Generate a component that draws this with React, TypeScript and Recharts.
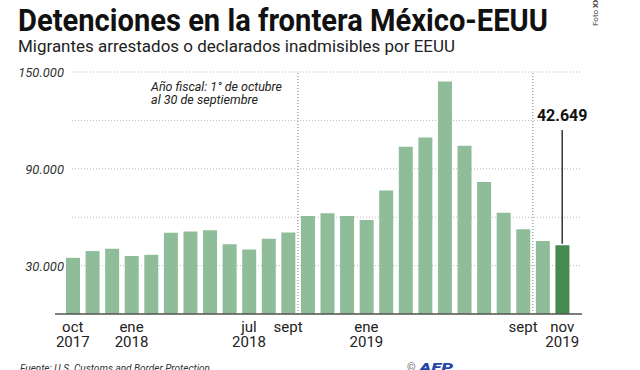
import { BarChart, Bar, XAxis, YAxis, CartesianGrid, ReferenceLine, Cell } from "recharts";

// meses del gráfico (oct 2017 - nov 2019)
const months = [
  "oct 2017", "nov 2017", "dic 2017", "ene 2018", "feb 2018", "mar 2018",
  "abr 2018", "may 2018", "jun 2018", "jul 2018", "ago 2018", "sept 2018",
  "oct 2018", "nov 2018", "dic 2018", "ene 2019", "feb 2019", "mar 2019",
  "abr 2019", "may 2019", "jun 2019", "jul 2019", "ago 2019", "sept 2019",
  "oct 2019", "nov 2019",
];

const detenciones = [
  34803, 39006, 40519, 35905, 36695, 50347,
  51166, 51912, 43180, 39953, 46719, 50568,
  60745, 62456, 60782, 58317, 76545, 103731,
  109415, 144116, 104311, 81777, 62707, 52546,
  45250, 42649,
];

const xTickLabels: Record<string, string[]> = {
  "oct 2017": ["oct", "2017"],
  "ene 2018": ["ene", "2018"],
  "jul 2018": ["jul", "2018"],
  "sept 2018": ["sept"],
  "ene 2019": ["ene", "2019"],
  "sept 2019": ["sept"],
  "nov 2019": ["nov", "2019"],
};

const yTicks = [0, 30000, 60000, 90000, 120000, 150000];
const yLabelled = [30000, 90000, 150000];
const fiscalYearStarts = ["oct 2018", "oct 2019"];
const lastLabel = "42.649";

const data = months.map((m, i) => ({ month: m, value: detenciones[i] }));

const W = 640;
const H = 370;
const margin = { top: 72, right: 58, bottom: 16, left: 0 };
const Y_W = 55;
const padL = 8;
const padR = 10;
const halfBand = (W - Y_W - margin.right - padL - padR) / months.length / 2;

const LIGHT = "#8fbd99";
const DARK = "#458a51";
const FONT = "Roboto, 'Noto Sans', sans-serif";

const XTick = (props: any) => {
  const lines = xTickLabels[props.payload.value];
  if (!lines) return null;
  return (
    <text x={props.x} y={props.y} textAnchor="middle" fontFamily={FONT} fontSize={15} fill="#222">
      {lines.map((l, i) => (
        <tspan key={i} x={props.x} dy={i === 0 ? 18 : 15}>
          {l}
        </tspan>
      ))}
    </text>
  );
};

const YTick = (props: any) => {
  const v = Number(props.payload.value);
  if (!yLabelled.includes(v)) return <g />;
  return (
    <text x={props.x + 9} y={props.y + 5} textAnchor="end" fontFamily={FONT} fontSize={13} fontStyle="italic" fill="#333">
      {v.toLocaleString("de-DE")}
    </text>
  );
};

const gridLine = (p: any) => (
  <line key={p.key} x1={p.x1 + 17} x2={p.x2} y1={p.y1} y2={p.y2} stroke="#bbb" strokeDasharray="1 2" />
);

const fiscalLine = (p: any) => (
  <line x1={p.x1 - halfBand} x2={p.x2 - halfBand} y1={p.y1} y2={p.y2} stroke="#777" strokeDasharray="1 2" />
);

export default function App() {
  return (
    <div style={{ position: "absolute", left: 0, top: 0, width: W, height: H, background: "#fff" }}>
      <BarChart width={W} height={H} data={data} margin={margin}>
        <CartesianGrid vertical={false} horizontal={gridLine} />
        <XAxis
          dataKey="month"
          interval={0}
          height={40}
          tickSize={0}
          tickMargin={0}
          tickLine={false}
          padding={{ left: padL, right: padR }}
          axisLine={{ stroke: "#555", strokeWidth: 1.5 }}
          tick={<XTick />}
        />
        <YAxis
          width={Y_W}
          domain={[0, 150000]}
          ticks={yTicks}
          interval={0}
          tickSize={0}
          tickMargin={0}
          axisLine={false}
          tickLine={false}
          tick={<YTick />}
        />
        {fiscalYearStarts.map((m) => (
          <ReferenceLine key={m} x={m} shape={fiscalLine} />
        ))}
        <Bar dataKey="value" barSize={14} isAnimationActive={false}>
          {data.map((d, i) => (
            <Cell key={d.month} fill={i === data.length - 1 ? DARK : LIGHT} />
          ))}
        </Bar>
        <ReferenceLine
          segment={[
            { x: "nov 2019", y: 43600 },
            { x: "nov 2019", y: 114000 },
          ]}
          stroke="#333"
          strokeWidth={1.5}
          label={{
            value: lastLabel,
            position: "top",
            offset: 9,
            fontFamily: FONT,
            fontSize: 16,
            fontWeight: 700,
            fill: "#111",
          }}
        />
      </BarChart>
      <svg width={W} height={H} style={{ position: "absolute", left: 0, top: 0, pointerEvents: "none" }}>
        <text x={18} y={31} fontFamily={FONT} fontWeight={700} fontSize={31} fill="#111" textLength={530} lengthAdjust="spacingAndGlyphs">
          Detenciones en la frontera México-EEUU
        </text>
        <text x={18} y={52} fontFamily={FONT} fontSize={17} fill="#222" textLength={437} lengthAdjust="spacingAndGlyphs">
          Migrantes arrestados o declarados inadmisibles por EEUU
        </text>
        <text x={151} y={91} fontFamily={FONT} fontSize={13} fontStyle="italic" fill="#222" textLength={131} lengthAdjust="spacingAndGlyphs">
          Año fiscal: 1° de octubre
        </text>
        <text x={151} y={104} fontFamily={FONT} fontSize={13} fontStyle="italic" fill="#222" textLength={107} lengthAdjust="spacingAndGlyphs">
          al 30 de septiembre
        </text>
        <text x={20} y={372} fontFamily={FONT} fontSize={11} fontStyle="italic" fill="#333" textLength={190} lengthAdjust="spacingAndGlyphs">
          Fuente: U.S. Customs and Border Protection
        </text>
        <text x={407} y={371} fontFamily={FONT} fontSize={11} fill="#666">
          ©
        </text>
        <text x={419} y={372} fontFamily={FONT} fontSize={13} fontWeight={900} fontStyle="italic" fill="#2446a8" textLength={34} lengthAdjust="spacingAndGlyphs">
          AFP
        </text>
        <text transform="translate(598 26) rotate(-90)" fontFamily={FONT} fontSize={8} fill="#444">
          Foto <tspan fontWeight={700}>XX</tspan>
        </text>
      </svg>
    </div>
  );
}
